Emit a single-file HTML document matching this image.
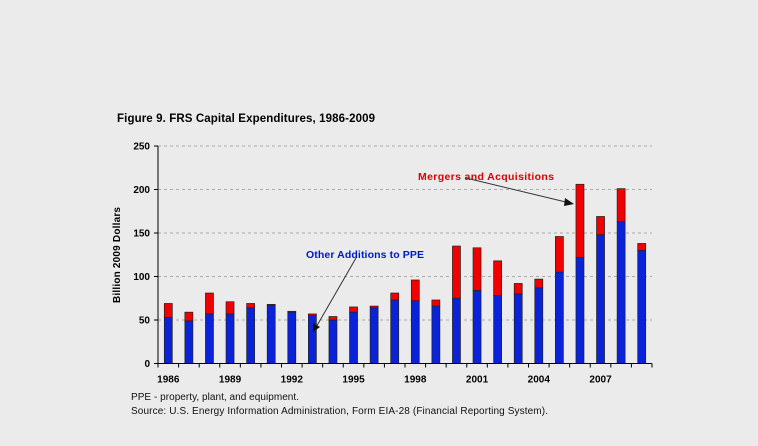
<!DOCTYPE html>
<html><head><meta charset="utf-8"><style>
body{margin:0;background:#ebebeb;}
svg{display:block;font-family:"Liberation Sans",Arial,sans-serif;}
</style></head><body>
<svg id="c" width="758" height="446">
<rect width="758" height="446" fill="#ebebeb"/>
<text x="117" y="122" font-size="11.5" font-weight="bold" textLength="258">Figure 9.  FRS Capital Expenditures, 1986-2009</text>
<text transform="translate(120,255) rotate(-90)" text-anchor="middle" font-size="10" font-weight="bold" textLength="96">Billion 2009 Dollars</text>
<g id="grid"></g><g id="bars"></g><g id="axes"></g>
<text x="418" y="180" font-size="10.5" font-weight="bold" fill="#e00000" textLength="136">Mergers and Acquisitions</text>
<text x="306" y="258" font-size="10.5" font-weight="bold" fill="#0018c8" textLength="118">Other Additions to PPE</text>
<line x1="466" y1="178" x2="570" y2="203" stroke="#333" stroke-width="1"/>
<polygon points="574,204 565,198 564,206" fill="#111"/>
<line x1="356" y1="258" x2="315" y2="329" stroke="#333" stroke-width="1"/>
<polygon points="313,332 313,323 320,327" fill="#111"/>
<text x="131" y="400" font-size="10" fill="#111" textLength="168">PPE - property, plant, and equipment.</text>
<text x="131" y="414" font-size="10" fill="#111" textLength="417">Source:  U.S. Energy Information Administration, Form EIA-28 (Financial Reporting System).</text>
</svg>
<script>
const years=[1986,1987,1988,1989,1990,1991,1992,1993,1994,1995,1996,1997,1998,1999,2000,2001,2002,2003,2004,2005,2006,2007,2008,2009];
const ppe=[53,49,57,57,64,67,59,55,50,59,64,73,72,66,75,84,78,80,87,105,122,148,163,130];
const mergers=[16,10,24,14,5,1,1,2,4,6,2,8,24,7,60,49,40,12,10,41,84,21,38,8];
const yTicks=[0,50,100,150,200,250];
const xLabels=[1986,1989,1992,1995,1998,2001,2004,2007];
const NS='http://www.w3.org/2000/svg';
const X0=158,X1=652,Y0=363.5,Y1=146,VMAX=250;
const band=(X1-X0)/years.length;
const y=v=>Y0-(v/VMAX)*(Y0-Y1);
const xc=i=>X0+band*(i+0.5);
function mk(t,a,p){const e=document.createElementNS(NS,t);for(const k in a)e.setAttribute(k,a[k]);p.appendChild(e);return e;}
const grid=document.getElementById('grid'),bars=document.getElementById('bars'),axes=document.getElementById('axes');
yTicks.forEach(v=>{
  if(v>0){const g=mk('line',{x1:X0,x2:X1,y1:y(v),y2:y(v),stroke:'#aaa','stroke-dasharray':'3,3'},grid);
  
  }
  const tk=mk('line',{x1:X0-4,x2:X0,y1:y(v),y2:y(v),stroke:'#000'},axes);
  
  
  const t=mk('text',{x:X0-8,y:y(v)+3.5,'text-anchor':'end','font-size':'10','font-weight':'bold'},axes);
  t.textContent=v;
  
  
});
const bw=8;
years.forEach((yr,i)=>{
  const cx=xc(i);
  const b=mk('rect',{x:cx-bw/2,y:y(ppe[i]),width:bw,height:Y0-y(ppe[i]),fill:'#0a22d8',stroke:'#222','stroke-width':'0.7'},bars);
  
  
  const m=mk('rect',{x:cx-bw/2,y:y(ppe[i]+mergers[i]),width:bw,height:y(ppe[i])-y(ppe[i]+mergers[i]),fill:'#f00000',stroke:'#222','stroke-width':'0.7'},bars);
  
  
});
for(let i=0;i<=years.length;i++){
  const tk=mk('line',{x1:X0+band*i,x2:X0+band*i,y1:Y0,y2:Y0+4,stroke:'#000'},axes);
  
  
}
xLabels.forEach(yr=>{
  const i=years.indexOf(yr);
  const t=mk('text',{x:xc(i),y:Y0+19,'text-anchor':'middle','font-size':'10','font-weight':'bold'},axes);
  t.textContent=yr;
  
  
});
const ya=mk('line',{x1:X0,x2:X0,y1:Y1,y2:Y0,stroke:'#000'},axes);


const xa=mk('line',{x1:X0,x2:X1,y1:Y0,y2:Y0,stroke:'#000'},axes);


</script>
</body></html>
